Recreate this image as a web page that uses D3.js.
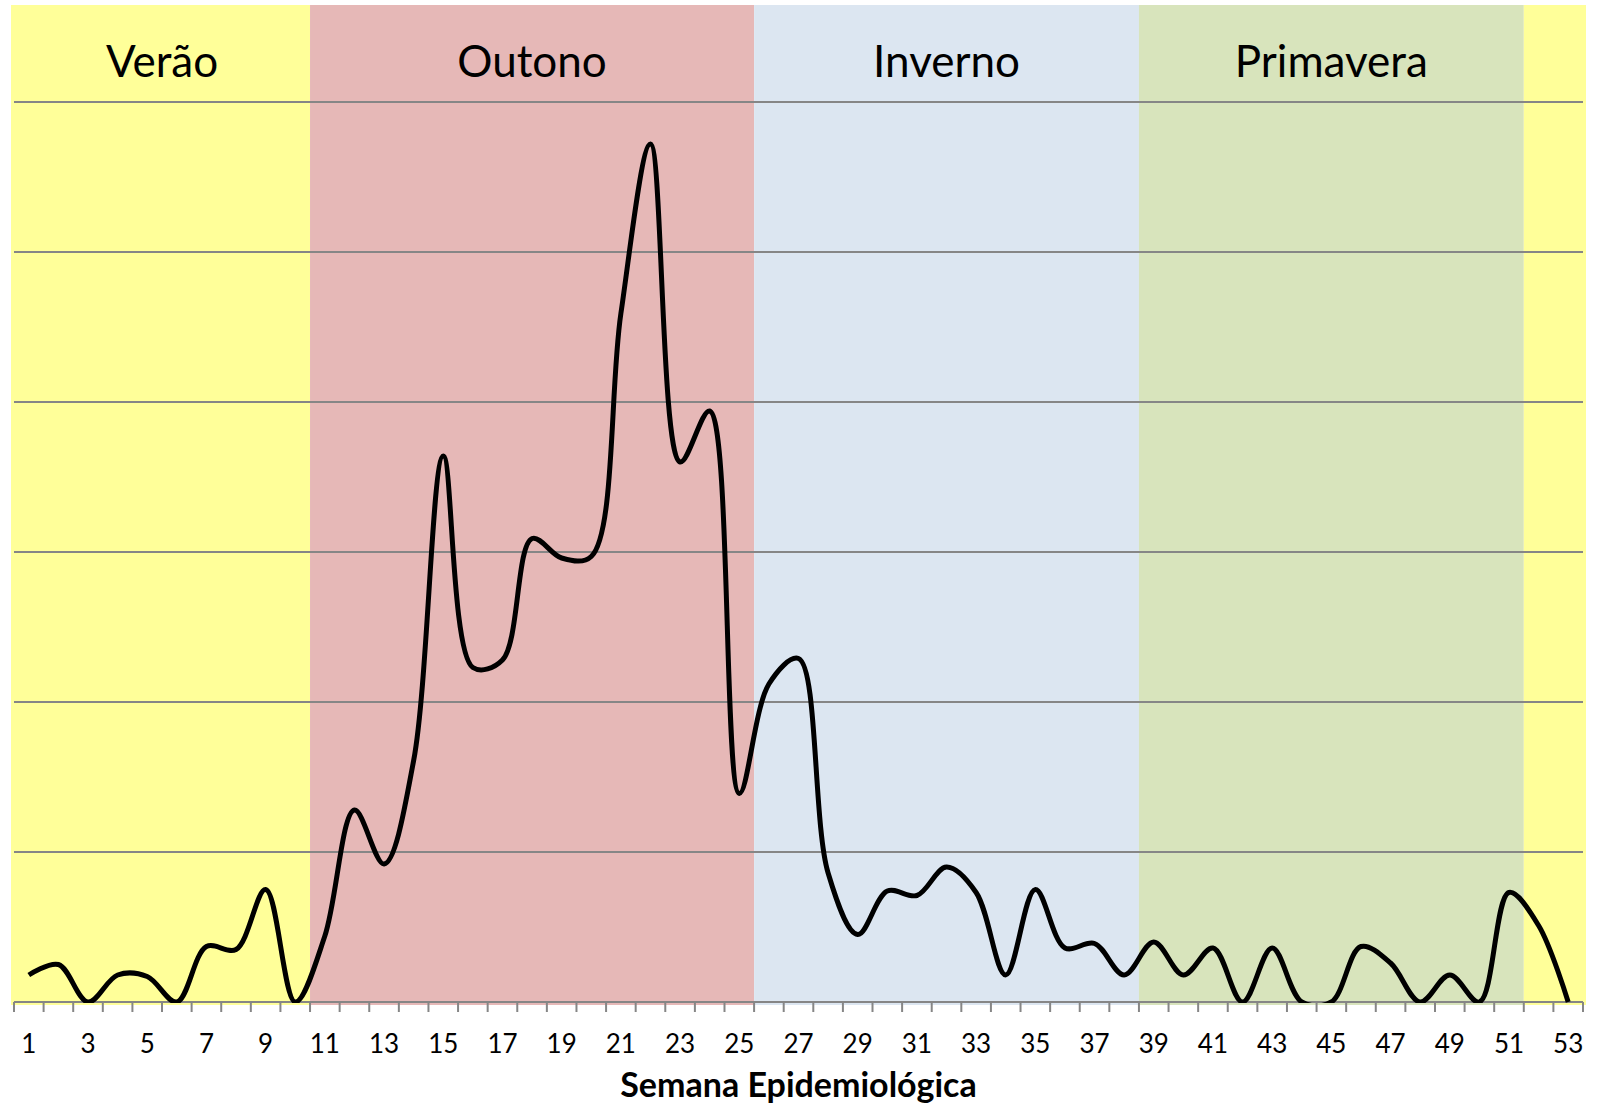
<!DOCTYPE html>
<html>
<head>
  <title>Semana Epidemiológica</title>
  <meta charset="utf8">
  <style type="text/css">
    body { margin: 0; background: #fff; font-family: Lato, "Open Sans", sans-serif; }
    .grid line { stroke: #868686; stroke-width: 2; }
    .axis line { stroke: #868686; stroke-width: 2; }
    .axis text { font-size: 26px; fill: #000; font-family: Lato, sans-serif; }
    .season-label { font-size: 44px; fill: #000; }
    .axis-title { font-size: 34px; font-weight: bold; fill: #000; }
  </style>
</head>
<body>

<script src="https://d3js.org/d3.v7.min.js"></script>

<script type="text/javascript">

// semanas epidemiológicas 1..53
var weeks = d3.range(1, 54)

// valores (uma entrada por semana)
var values = [
  1.8, 2.5, 0, 1.8, 1.7, 0, 3.7, 3.5, 7.5, 0,
  4.4, 12.8, 9.2, 16.1, 36.4, 22.3, 22.8, 30.9, 29.6, 29.7,
  45.9, 57.2, 36.0, 39.4, 13.9, 21.2, 22.9, 8.6, 4.5, 7.4,
  7.1, 9.0, 7.3, 1.8, 7.5, 3.6, 3.9, 1.8, 4.0, 1.8,
  3.6, 0, 3.6, 0, 0, 3.7, 2.6, 0, 1.8, 0,
  7.3, 5.1, 0
]

// estações do ano
var seasonNames = ['Verão', 'Outono', 'Inverno', 'Primavera', '']
var seasonFirstWeek = [1, 11, 26, 39, 52]
var seasonLastWeek = [10, 25, 38, 51, 53]
var seasonColors = ['#ffff99', '#e6b8b7', '#dce6f1', '#d8e4bc', '#ffff99']

var gridValues = [0, 10, 20, 30, 40, 50, 60]
var tickLabels = weeks.filter(function(d) { return d % 2 == 1 })

var width = 1599, height = 1105
var plotLeft = 14, plotRight = 1583, plotTop = 5, plotBottom = 1002

var svg = d3.select('body').append('svg')
    .attr('width', width)
    .attr('height', height)

var x = d3.scaleBand()
    .domain(weeks)
    .range([plotLeft, plotRight])
    .padding(0)

var y = d3.scaleLinear()
    .domain([0, 60])
    .range([plotBottom, 102])

var cx = function(w) { return x(w) + x.bandwidth() / 2 }

// faixas das estações
var seasons = seasonNames.map(function(name, i) {
  return { name: name, first: seasonFirstWeek[i], last: seasonLastWeek[i], color: seasonColors[i] }
})

svg.append('g')
    .attr('class', 'seasons')
  .selectAll('rect')
  .data(seasons)
  .enter()
  .append('rect')
    .attr('x', function(d, i) { return x(d.first) - (i == 0 ? 3 : 0) })
    .attr('width', function(d, i) {
      return x(d.last) + x.bandwidth() - x(d.first) + (i == 0 || i == seasons.length - 1 ? 3 : 0)
    })
    .attr('y', plotTop)
    .attr('height', plotBottom + 3 - plotTop)
    .style('fill', function(d) { return d.color })

// linhas de grade
svg.append('g')
    .attr('class', 'grid')
  .selectAll('line')
  .data(gridValues.slice(1))
  .enter()
  .append('line')
    .attr('x1', plotLeft)
    .attr('x2', plotRight)
    .attr('y1', function(d) { return y(d) })
    .attr('y2', function(d) { return y(d) })

// rótulos das estações
svg.append('g')
  .selectAll('text')
  .data(seasons.filter(function(d) { return d.name }))
  .enter()
  .append('text')
    .attr('class', 'season-label')
    .attr('text-anchor', 'middle')
    .attr('x', function(d) { return (x(d.first) + x(d.last) + x.bandwidth()) / 2 })
    .attr('y', 77)
    .text(function(d) { return d.name })

// eixo x: marcas nas divisões entre semanas
var xAxis = svg.append('g')
    .attr('class', 'axis')
    .attr('transform', 'translate(0,' + plotBottom + ')')

xAxis.append('line')
    .attr('x1', plotLeft)
    .attr('x2', plotRight)

xAxis.selectAll('.tick')
  .data(d3.range(0, weeks.length + 1))
  .enter()
  .append('line')
    .attr('class', 'tick')
    .attr('x1', function(i) { return plotLeft + i * x.step() })
    .attr('x2', function(i) { return plotLeft + i * x.step() })
    .attr('y1', 0)
    .attr('y2', 10)

xAxis.selectAll('text')
  .data(tickLabels)
  .enter()
  .append('text')
    .attr('x', function(d) { return cx(d) })
    .attr('y', 51)
    .attr('text-anchor', 'middle')
    .text(function(d) { return d })

svg.append('text')
    .attr('class', 'axis-title')
    .attr('x', (plotLeft + plotRight) / 2)
    .attr('y', 1097)
    .attr('text-anchor', 'middle')
    .text('Semana Epidemiológica')

// série suavizada
svg.append('clipPath')
    .attr('id', 'plot-clip')
  .append('rect')
    .attr('x', plotLeft - 10)
    .attr('y', plotTop)
    .attr('width', plotRight - plotLeft + 20)
    .attr('height', plotBottom + 1 - plotTop)

var line = d3.line()
    .x(function(d, i) { return cx(weeks[i]) })
    .y(function(d) { return y(d) })
    .curve(d3.curveCatmullRom.alpha(0.5))

svg.append('path')
    .datum(values)
    .attr('clip-path', 'url(#plot-clip)')
    .attr('d', line)
    .style('fill', 'none')
    .style('stroke', '#000')
    .style('stroke-width', 5)
    .style('stroke-linejoin', 'round')

</script>

</body>
</html>
